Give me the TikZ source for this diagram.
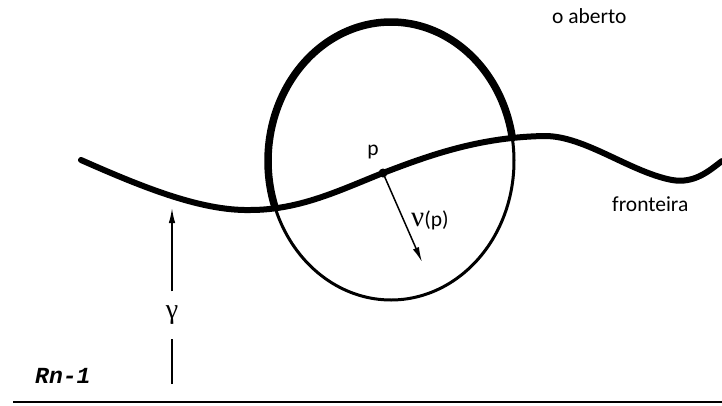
\documentclass[tikz,border=0pt]{standalone}
\usepackage{fontspec}
\setmainfont{Carlito}
\newfontfamily\grfont{Liberation Serif}
\newfontfamily\monofont{Liberation Mono}
\usetikzlibrary{arrows.meta}
\begin{document}
\begin{tikzpicture}[x=1pt,y=-1pt,
  lbl/.style={inner sep=0pt,font=\fontsize{21.5}{25}\selectfont},
  thickline/.style={line width=7.5pt,line cap=round,line join=round},
  thinline/.style={line width=3pt},
  arrowline/.style={line width=1.5pt,-{Latex[length=15pt,width=6.5pt]}}]
\useasboundingbox (0,0) rectangle (722,405);
% boundary curve
\draw[line width=6pt,line cap=round]
  (81,160) .. controls (140,186) and (200,211) .. (250,210)
           .. controls (300,210) and (340,190) .. (383,173)
           .. controls (430,155) and (480,137) .. (545,136)
           .. controls (585,136) and (630,172) .. (672,180)
           .. controls (695,184) and (710,170) .. (722,161);
% circle: thick upper arc, thin lower arc
\draw[thickline] plot[domain=161:350,samples=90,smooth] ({391+123*cos(\x)},{161+139*sin(\x)});
\draw[thinline] plot[domain=-10:161,samples=90,smooth] ({391+123*cos(\x)},{161+139*sin(\x)});
% point p and normal
\coordinate (p) at (383,173);
\fill (p) circle (4.5);
\node[lbl,anchor=base] (plab) at (373,155) {p};
\coordinate (nu) at (422,262);
\draw[arrowline] (p) -- (nu);
\node[lbl,anchor=base west] (nulab) at (411,226) {{\grfont\fontsize{29}{32}\selectfont ν}(p)};
% gamma arrow
\node[inner sep=0pt,minimum height=47pt,font=\grfont\fontsize{28}{32}\selectfont] (g) at (172,315) {γ};
\coordinate (gbot) at (172,384);
\coordinate (gtip) at (172,208);
\draw[line width=1.5pt] (gbot) -- (g.south);
\draw[arrowline] (g.north) -- (gtip);
% labels
\node[lbl,anchor=base west] (aberto) at (552,23) {o aberto};
\node[lbl,anchor=base west] (front) at (612,211) {fronteira};
\node[inner sep=0pt,anchor=base west,font=\monofont\bfseries\itshape\fontsize{23}{26}\selectfont] (rn) at (35,383) {Rn-1};
% base line
\coordinate (b1) at (13,402);
\coordinate (b2) at (722,402);
\draw[line width=2.6pt] (b1) -- (b2);
\end{tikzpicture}
\end{document}
